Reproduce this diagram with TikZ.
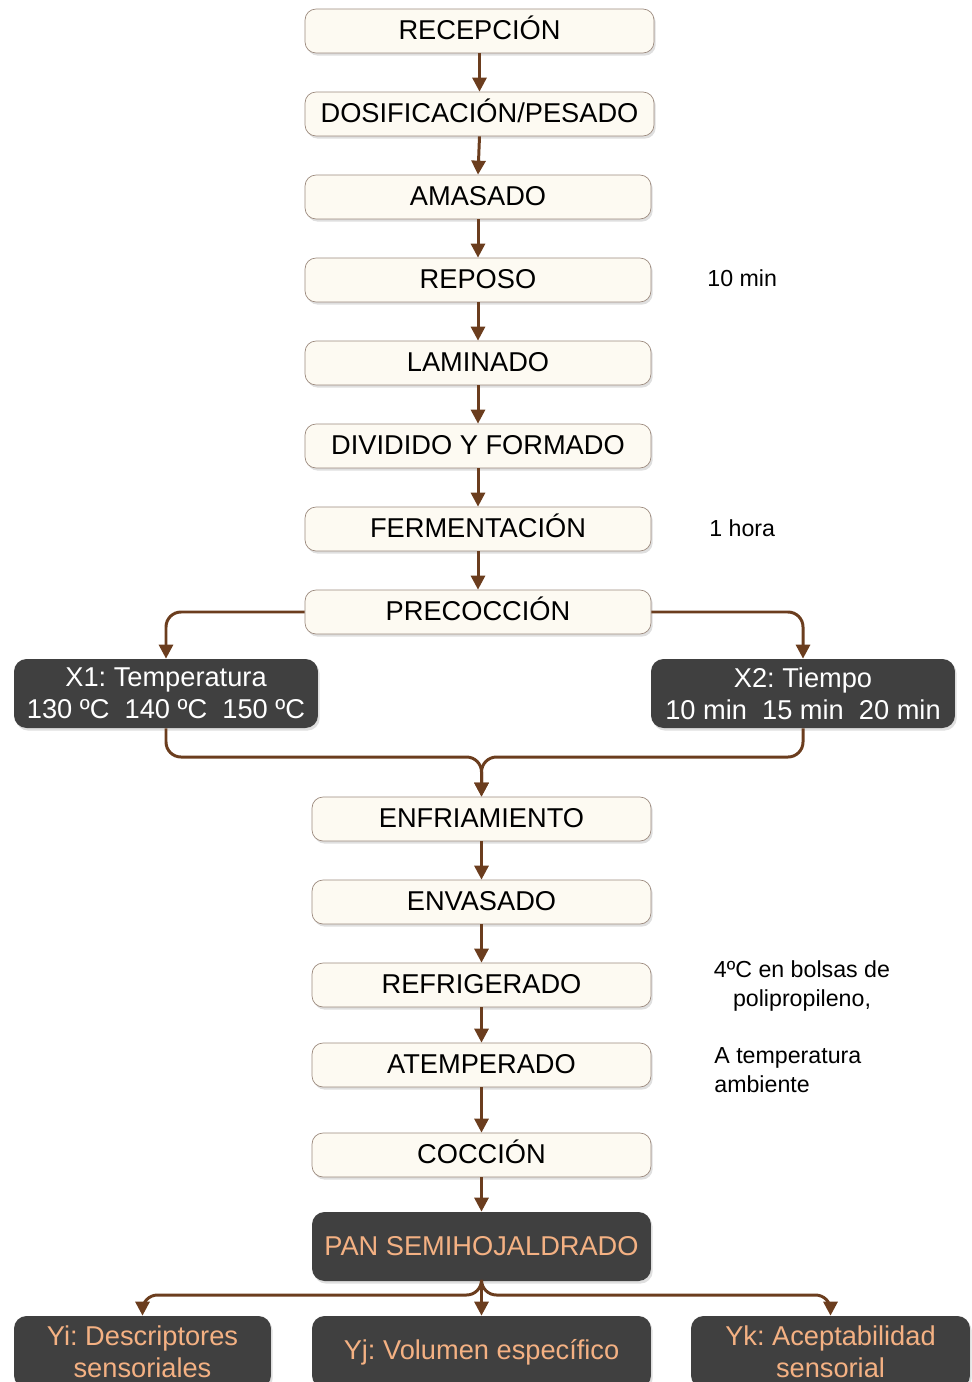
\documentclass[tikz,border=0pt]{standalone}
\usepackage{fontspec}
\setmainfont{Liberation Sans}
\usetikzlibrary{arrows.meta,shadows}
\frenchspacing
\definecolor{cafe}{HTML}{6B3D1E}
\definecolor{crema}{HTML}{FDFAF2}
\definecolor{borde}{HTML}{9C8A7E}
\definecolor{oscuro}{HTML}{404040}
\definecolor{naranja}{HTML}{F4B183}
\tikzset{
  % process steps: light boxes
  proc/.style={draw=borde, fill=crema, rounded corners=2.2mm, inner sep=0pt,
    minimum height=0.88cm, font=\fontsize{15.5}{18.5}\selectfont,
    text height=11.6pt, text depth=1.5pt,
    drop shadow={opacity=0.25, shadow xshift=1pt, shadow yshift=-1.5pt}},
  % factors and responses: dark boxes
  factor/.style={fill=oscuro, text=white, rounded corners=2.5mm, inner sep=0pt,
    align=center, minimum height=1.38cm, font=\fontsize{15.5}{18}\selectfont,
    drop shadow={opacity=0.25, shadow xshift=1pt, shadow yshift=-1.5pt}},
  resp/.style={factor, text=naranja},
  flow/.style={draw=cafe, line width=1.7pt, rounded corners=3mm,
    -{Triangle[length=2.8mm,width=2.8mm]}},
  note/.style={font=\fontsize{13.2}{16.5}\selectfont, inner sep=0pt},
}
\begin{document}
\begin{tikzpicture}[x=0.02cm,y=-0.02cm]
\useasboundingbox (0,0) rectangle (972,1382);
\node[proc,minimum width=6.98cm](rec) at (479.5,31) {RECEPCIÓN};
\node[proc,minimum width=6.98cm](dos) at (479.5,114) {DOSIFICACIÓN/PESADO};
\node[proc,minimum width=6.92cm](ama) at (478,197) {AMASADO};
\node[proc,minimum width=6.92cm](rep) at (478,280) {REPOSO};
\node[proc,minimum width=6.92cm](lam) at (478,363) {LAMINADO};
\node[proc,minimum width=6.92cm](div) at (478,446) {DIVIDIDO Y FORMADO};
\node[proc,minimum width=6.92cm](fer) at (478,529) {FERMENTACIÓN};
\node[proc,minimum width=6.92cm](pre) at (478,612) {PRECOCCIÓN};
\node[factor,minimum width=6.08cm](xone) at (166,693.5) {X1: Temperatura\\130 ºC~~140 ºC~~150 ºC};
\node[factor,minimum width=6.08cm](xtwo) at (803,693.5) {X2: Tiempo\\10 min~~15 min~~20 min};
\node[proc,minimum width=6.78cm](enf) at (481.5,819) {ENFRIAMIENTO};
\node[proc,minimum width=6.78cm](env) at (481.5,902) {ENVASADO};
\node[proc,minimum width=6.78cm](ref) at (481.5,985) {REFRIGERADO};
\node[proc,minimum width=6.78cm](ate) at (481.5,1065) {ATEMPERADO};
\node[proc,minimum width=6.78cm](coc) at (481.5,1155) {COCCIÓN};
\node[resp,minimum width=6.78cm](pan) at (481.5,1246.5) {PAN SEMIHOJALDRADO};
\node[resp,minimum width=5.14cm,minimum height=1.44cm](yi) at (142.5,1352) {Yi: Descriptores\\sensoriales};
\node[resp,minimum width=6.78cm,minimum height=1.44cm](yj) at (481.5,1352) {Yj: Volumen específico};
\node[resp,minimum width=5.58cm,minimum height=1.44cm](yk) at (830.5,1352) {Yk: Aceptabilidad\\sensorial};
% side notes
\node[note,anchor=west](trep) at (707,278) {10 min};
\node[note,anchor=west](tfer) at (709,528) {1 hora};
\node[note,align=center](tref) at (802,986) {4ºC en bolsas de\\polipropileno,};
\node[note,align=left,anchor=west](tate) at (714,1070) {A temperatura\\ambiente};
\coordinate (join) at (481.5,757);
\coordinate (fork) at (481.5,1295);
% connectors
\foreach \a/\b in {rec/dos,dos/ama,ama/rep,rep/lam,lam/div,div/fer,fer/pre,
  enf/env,env/ref,ref/ate,ate/coc,coc/pan,pan/yj}
  \draw[flow] (\a.south) -- (\b.north);
\draw[flow] (pre.west) -| (xone.north);
\draw[flow] (pre.east) -| (xtwo.north);
\draw[flow] (xone.south) |- (join) -- (enf.north);
\draw[flow] (xtwo.south) |- (join) -- (enf.north);
\draw[flow] (pan.south) -- (fork) -| (yi.north);
\draw[flow] (pan.south) -- (fork) -| (yk.north);
\end{tikzpicture}
\end{document}
